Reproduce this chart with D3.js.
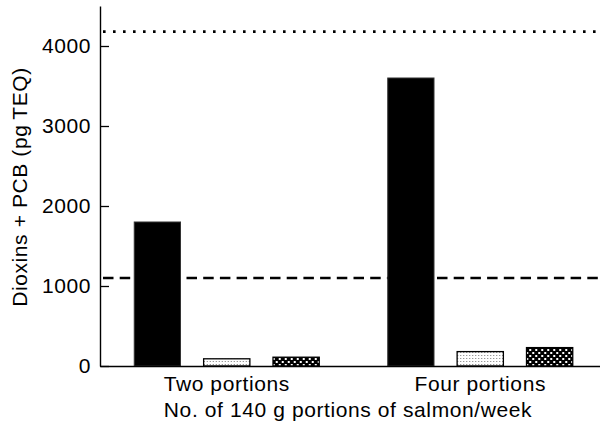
<!DOCTYPE html>
<html>
<head>
<meta charset="utf-8">
<script src="https://cdn.jsdelivr.net/npm/d3@7"></script>
<style>
  html, body { margin: 0; padding: 0; background: #fff; }
  svg text { font-family: "Liberation Sans", Arial, Helvetica, sans-serif; font-size: 21px; letter-spacing: 0.6px; fill: #000; }
</style>
</head>
<body>
<svg id="chart" width="600" height="431"></svg>
<script>
const categories = ["Two portions", "Four portions"];
const seriesNames = ["total", "reduced", "mixed"];
const seriesTotal = [1800, 3600];
const seriesReduced = [90, 180];
const seriesMixed = [110, 230];
const yTicks = [0, 1000, 2000, 3000, 4000];
const refDotted = 4180;
const refDashed = 1100;
const xTitle = "No. of 140 g portions of salmon/week";
const yTitle = "Dioxins + PCB (pg\u2009TEQ)";

const svg = d3.select("#chart");
const defs = svg.append("defs");

const pLight = defs.append("pattern").attr("id", "light").attr("patternUnits", "userSpaceOnUse")
  .attr("width", 3).attr("height", 3);
pLight.append("rect").attr("width", 3).attr("height", 3).attr("fill", "#fff");
pLight.append("rect").attr("x", 1).attr("y", 1).attr("width", 1).attr("height", 1).attr("fill", "#777");

const pDense = defs.append("pattern").attr("id", "dense").attr("patternUnits", "userSpaceOnUse")
  .attr("width", 6).attr("height", 6);
pDense.append("rect").attr("width", 6).attr("height", 6).attr("fill", "#000");
pDense.append("rect").attr("x", 1).attr("y", 1).attr("width", 2).attr("height", 2).attr("fill", "#fff");
pDense.append("rect").attr("x", 4).attr("y", 4).attr("width", 2).attr("height", 2).attr("fill", "#fff");

const fills = { total: "#000", reduced: "url(#light)", mixed: "url(#dense)" };

const y = d3.scaleLinear().domain([0, 4500]).range([366, 6]);
const x0 = d3.scaleBand().domain(categories).range([100, 607]);
const x1 = d3.scaleBand().domain(seriesNames).range([-92.5, 92.5]).paddingInner(1 / 3).paddingOuter(0);

const data = categories.map((c, i) => ({
  cat: c,
  vals: [
    { key: "total", v: seriesTotal[i] },
    { key: "reduced", v: seriesReduced[i] },
    { key: "mixed", v: seriesMixed[i] }
  ]
}));

// reference lines (behind bars)
svg.append("line")
  .attr("x1", 103).attr("x2", 600)
  .attr("y1", y(refDotted)).attr("y2", y(refDotted))
  .attr("stroke", "#000").attr("stroke-width", 2.6)
  .attr("stroke-dasharray", "2.6,7.4");
svg.append("line")
  .attr("x1", 103).attr("x2", 600)
  .attr("y1", y(refDashed)).attr("y2", y(refDashed))
  .attr("stroke", "#000").attr("stroke-width", 2.6)
  .attr("stroke-dasharray", "10.5,6.2");

// bars
const g = svg.append("g").selectAll("g").data(data).join("g")
  .attr("transform", d => `translate(${x0(d.cat) + x0.bandwidth() / 2},0)`);
g.selectAll("rect").data(d => d.vals).join("rect")
  .attr("x", d => x1(d.key))
  .attr("width", x1.bandwidth())
  .attr("y", d => y(d.v))
  .attr("height", d => y(0) - y(d.v))
  .attr("fill", d => fills[d.key])
  .attr("stroke", d => d.key === "total" ? "#333" : "#000")
  .attr("stroke-width", d => d.key === "total" ? 1 : 1.3);

// y axis
const yAxis = svg.append("g").attr("transform", "translate(100,0)")
  .call(d3.axisLeft(y).tickValues(yTicks).tickFormat(d3.format("d")).tickSizeInner(-9).tickSizeOuter(0).tickPadding(9));
yAxis.select(".domain").attr("stroke-width", 1.4);
yAxis.selectAll(".tick line").attr("stroke-width", 1.3);
yAxis.selectAll("text").attr("font-size", null).attr("font-family", null);

// x axis
const xAxis = svg.append("g").attr("transform", "translate(0,366)")
  .call(d3.axisBottom(x0).tickSize(0).tickPadding(10));
xAxis.select(".domain").attr("stroke-width", 1.4);
xAxis.selectAll("text").attr("font-size", null).attr("font-family", null);

// titles
svg.append("text").attr("x", 348).attr("y", 417).attr("text-anchor", "middle").text(xTitle);
svg.append("text").attr("transform", "translate(27,187) rotate(-90)").attr("text-anchor", "middle").text(yTitle);
</script>
</body>
</html>
